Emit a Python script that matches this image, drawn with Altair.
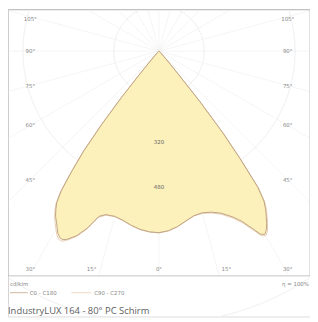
import math
import altair as alt
import pandas as pd

# ---- data ----
theta_c0 = [-90, -60, -45, -42, -41, -40, -39, -38, -37, -36, -35, -34, -33, -32, -31, -30, -29, -28, -27, -26,
            -24, -22, -20, -18, -15, -12, -9, -6, -3, 0, 3, 6, 9, 12, 15, 18, 21, 24, 26, 28, 29, 30, 31, 32,
            33, 34, 35, 36, 37, 38, 39, 40, 41, 42, 45, 60, 90]
cd_c0 = [0, 2, 8, 25, 50, 100, 210, 330, 440, 520, 600, 645, 668, 688, 702, 718, 735, 745, 746, 738,
         712, 672, 620, 606, 603, 610, 622, 632, 638, 640, 634, 622, 606, 593, 590, 597, 612, 640, 668, 712, 738,
         746, 735, 716, 694, 672, 645, 592, 475, 365, 230, 105, 50, 25, 8, 2, 0]
theta_c90 = theta_c0
cd_c90 = [0, 2, 9, 27, 53, 106, 218, 338, 448, 528, 606, 650, 674, 694, 710, 726, 742, 752, 752, 742,
          715, 676, 624, 608, 604, 611, 623, 633, 639, 641, 635, 623, 607, 594, 592, 600, 616, 645, 674, 718, 744,
          752, 742, 722, 700, 678, 650, 598, 482, 372, 236, 110, 53, 27, 9, 2, 0]
ring_values = [160, 320, 480, 640, 800]
ring_labels = ["320", "480"]
ring_label_values = [320, 480]
angle_ticks = [-105, -90, -75, -60, -45, -30, -15, 0, 15, 30, 45, 60, 75, 90, 105]
series_names = ["C0 - C180", "C90 - C270"]
unit_text = "cd/klm"
eta_text = "\u03b7 = 100%"
title_text = "IndustryLUX 164 - 80\u00b0 PC Schirm"

# ---- layout ----
W, H = 305, 310
R_PX = 0.2865          # pixels per cd/klm
CXP, CYP = 152.5, 42   # pole position in the plot area
FRAME_B = 269          # frame bottom (px)
FILL = "#fcf0bb"
LINE1 = "#bfa585"
LINE2 = "#e9cdb2"
GRID = "#f1f1f1"
LABEL = "#8a8a8a"

xdom = [-CXP / R_PX, (W - CXP) / R_PX]
ydom = [-(H - CYP) / R_PX, CYP / R_PX]
xs = alt.Scale(domain=xdom, nice=False, zero=False)
ys = alt.Scale(domain=ydom, nice=False, zero=False)
ybot = -(FRAME_B - CYP) / R_PX

rows = []
for name, th, cd in [(series_names[0], theta_c0, cd_c0), (series_names[1], theta_c90, cd_c90)]:
    for i, (t, v) in enumerate(zip(th, cd)):
        rows.append({"series": name, "i": i, "theta": t, "cd": v})
curves = pd.DataFrame(rows)

# rays every 15 degrees, ending at the frame
ray_rows = []
for a in range(-180, 180, 15):
    dx, dy = math.sin(math.radians(a)), -math.cos(math.radians(a))
    ts = []
    if dx > 1e-9: ts.append(xdom[1] / dx)
    if dx < -1e-9: ts.append(xdom[0] / dx)
    if dy > 1e-9: ts.append(ydom[1] / dy)
    if dy < -1e-9: ts.append(ybot / dy)
    t = min(ts)
    ray_rows.append({"x": 0, "y": 0, "x2": t * dx, "y2": t * dy})
rays = pd.DataFrame(ray_rows)

# angle label positions
HW, DEPTH, UP = 130, 254, 400
LX, YB, YT = 147.5, -220, 32
lab_rows = []
for a in angle_ticks:
    s, c = math.sin(math.radians(a)), math.cos(math.radians(a))
    ts = []
    if abs(s) > 1e-9: ts.append(HW / abs(s))
    if c > 1e-9: ts.append(DEPTH / c)
    if c < -1e-9: ts.append(UP / -c)
    t = min(ts)
    px, py = t * s, -t * c
    px = max(-LX, min(LX, px))
    py = max(YB, min(YT, py))
    lab_rows.append({"x": px / R_PX, "y": py / R_PX, "label": f"{abs(a)}\u00b0"})
angle_labels = pd.DataFrame(lab_rows)

rings = pd.DataFrame({"v": ring_values, "cx": 0, "cy": 0})
ring_lab = pd.DataFrame({"x": 0, "y": [-v for v in ring_label_values], "label": ring_labels})

X = lambda f: alt.X(f, scale=xs, axis=None)
Y = lambda f: alt.Y(f, scale=ys, axis=None)

ring_layer = alt.Chart(rings).transform_calculate(rpx=f"datum.v * {R_PX}").mark_arc(
    theta=0, theta2=2 * math.pi, fillOpacity=0, stroke=GRID, strokeWidth=0.7, clip=True
).encode(x=X("cx:Q"), y=Y("cy:Q"), radius=alt.Radius("rpx:Q", scale=None))

ray_layer = alt.Chart(rays).mark_rule(color=GRID, strokeWidth=0.7, clip=True).encode(
    x=X("x:Q"), y=Y("y:Q"), x2="x2:Q", y2="y2:Q")

calc = dict(px="datum.cd * sin(datum.theta * PI / 180)", py="-datum.cd * cos(datum.theta * PI / 180)")

fill_layer = alt.Chart(curves).transform_filter(
    alt.datum.series == series_names[0]).transform_calculate(**calc).mark_line(
    interpolate="linear-closed", fill=FILL, stroke=FILL, strokeWidth=0.5
).encode(x=X("px:Q"), y=Y("py:Q"), order="i:Q")

line2_layer = alt.Chart(curves).transform_filter(
    alt.datum.series == series_names[1]).transform_calculate(**calc).mark_line(
    color=LINE2, strokeWidth=1.0).encode(x=X("px:Q"), y=Y("py:Q"), order="i:Q")

line1_layer = alt.Chart(curves).transform_filter(
    alt.datum.series == series_names[0]).transform_calculate(**calc).mark_line(
    color=LINE1, strokeWidth=1.0).encode(x=X("px:Q"), y=Y("py:Q"), order="i:Q")

angle_text = alt.Chart(angle_labels).mark_text(
    fontSize=5.5, color=LABEL, font="DejaVu Sans").encode(x=X("x:Q"), y=Y("y:Q"), text="label:N")

ring_text = alt.Chart(ring_lab).mark_text(
    fontSize=5.5, color="#666", font="DejaVu Sans").encode(x=X("x:Q"), y=Y("y:Q"), text="label:N")

frame = alt.Chart(pd.DataFrame({"a": [0]})).mark_rect(
    fillOpacity=0, stroke="#b5b5b5", strokeWidth=0.8).encode(
    x=alt.value(0), x2=alt.value(W), y=alt.value(0), y2=alt.value(FRAME_B))
frame2 = alt.Chart(pd.DataFrame({"a": [0]})).mark_rule(color="#c8c8c8", strokeWidth=0.8).encode(
    x=alt.value(0), y=alt.value(FRAME_B), y2=alt.value(297))

info = pd.DataFrame({"t": [unit_text]})
unit_layer = alt.Chart(info).mark_text(fontSize=5.5, color=LABEL, align="left", font="DejaVu Sans").encode(
    x=alt.value(2), y=alt.value(277), text="t:N")
eta_layer = alt.Chart(pd.DataFrame({"t": [eta_text]})).mark_text(
    fontSize=5.5, color=LABEL, align="right", font="DejaVu Sans").encode(
    x=alt.value(304), y=alt.value(277), text="t:N")

leg_rule1 = alt.Chart(pd.DataFrame({"a": [0]})).mark_rule(color=LINE1, strokeWidth=0.8).encode(
    x=alt.value(2), x2=alt.value(20), y=alt.value(286))
leg_rule2 = alt.Chart(pd.DataFrame({"a": [0]})).mark_rule(color=LINE2, strokeWidth=0.8).encode(
    x=alt.value(64), x2=alt.value(84), y=alt.value(286))
leg_t1 = alt.Chart(pd.DataFrame({"t": [series_names[0]]})).mark_text(
    fontSize=5.5, color=LABEL, align="left", font="DejaVu Sans").encode(
    x=alt.value(22), y=alt.value(286), text="t:N")
leg_t2 = alt.Chart(pd.DataFrame({"t": [series_names[1]]})).mark_text(
    fontSize=5.5, color=LABEL, align="left", font="DejaVu Sans").encode(
    x=alt.value(87), y=alt.value(286), text="t:N")

title_layer = alt.Chart(pd.DataFrame({"t": [title_text]})).mark_text(
    fontSize=9.5, color="#606060", align="left", font="Open Sans").encode(
    x=alt.value(0), y=alt.value(304), text="t:N")

chart = alt.layer(
    ring_layer, ray_layer, fill_layer, line2_layer, line1_layer, angle_text, ring_text,
    frame, frame2, unit_layer, eta_layer, leg_rule1, leg_rule2, leg_t1, leg_t2, title_layer
).properties(width=W, height=H, autosize=alt.AutoSizeParams(type="none"), padding=0).configure_view(
    stroke=None).configure(background="white")

chart.save("out.html", embed_options={"renderer": "svg", "actions": False})
